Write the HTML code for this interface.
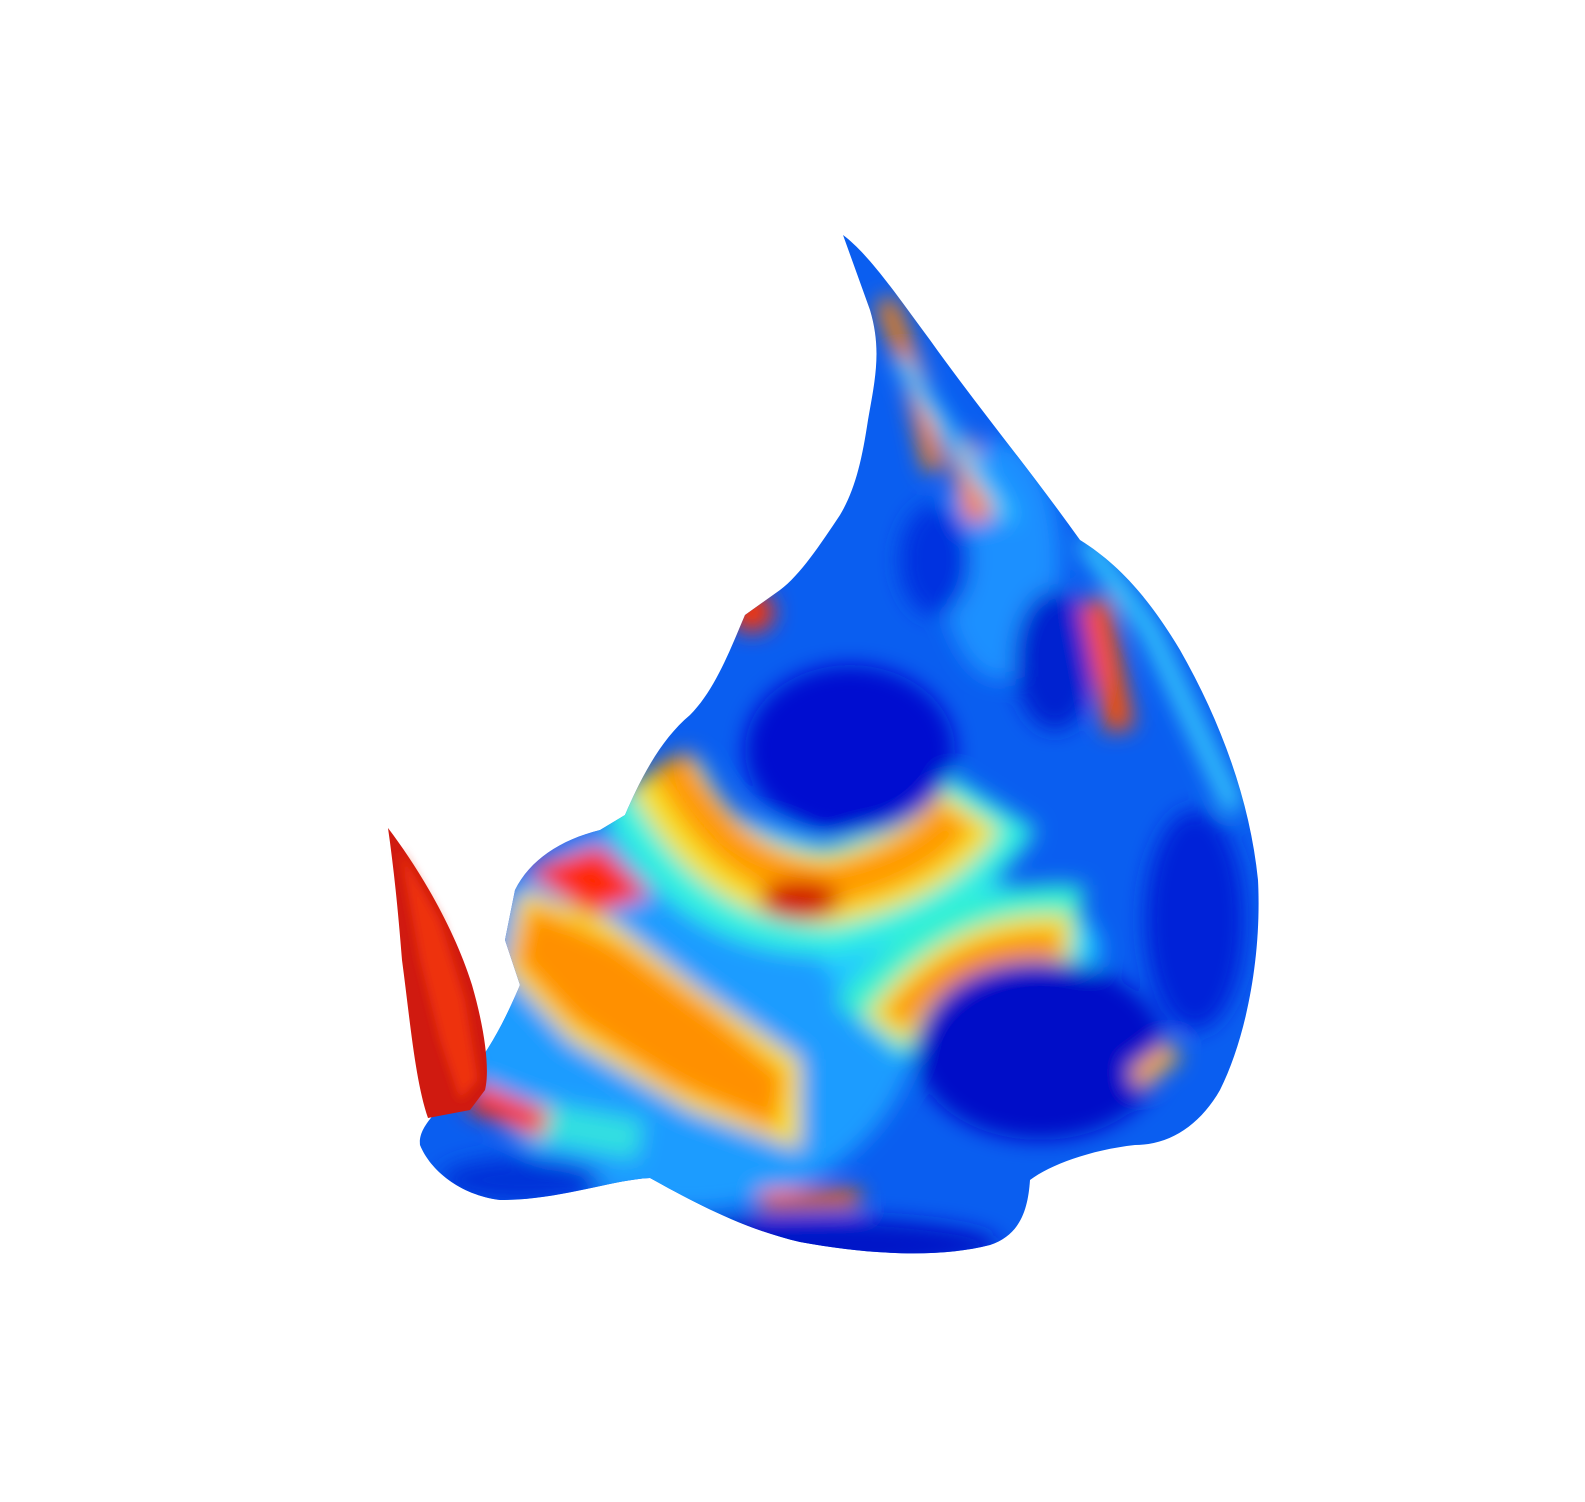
<!DOCTYPE html>
<html><head><meta charset="utf-8"><style>
html,body{margin:0;padding:0;background:#fff;}
svg{display:block;}
</style></head><body>
<svg width="1585" height="1502" viewBox="0 0 1585 1502" xmlns="http://www.w3.org/2000/svg">
<defs>
<filter id="b1" x="-50%" y="-50%" width="200%" height="200%"><feGaussianBlur stdDeviation="11"/></filter>
<filter id="b2" x="-50%" y="-50%" width="200%" height="200%"><feGaussianBlur stdDeviation="5"/></filter>
<clipPath id="body"><path d="M843,235 C870,255 900,300 930,340 C980,410 1030,470 1080,540 C1120,565 1150,600 1180,650 C1220,720 1250,800 1258,880 C1262,960 1245,1040 1220,1090 C1200,1125 1170,1145 1135,1145 C1090,1150 1050,1165 1030,1180 C1028,1210 1020,1235 990,1245 C940,1258 870,1255 800,1242 C740,1228 690,1200 650,1178 C610,1180 560,1200 500,1200 C460,1195 430,1170 420,1145 C418,1125 440,1110 465,1080 C490,1050 505,1020 520,985 L505,940 L515,890 C530,860 560,840 600,830 L625,815 C640,780 660,740 690,715 C715,690 730,650 745,615 L780,590 C800,575 820,545 840,515 C855,490 862,460 868,420 C875,380 882,350 870,310 Z"/></clipPath>
</defs>
<g clip-path="url(#body)">
<rect x="380" y="220" width="900" height="1060" fill="#0a5ef0"/>
<g filter="url(#b1)">
<ellipse cx="690" cy="1010" rx="230" ry="200" fill="#1a9cff"/>
<ellipse cx="960" cy="950" rx="140" ry="70" fill="#20c8ff"/>
<ellipse cx="1000" cy="560" rx="60" ry="120" fill="#1a90ff"/>
<path d="M650,780 Q700,900 830,900 Q940,880 990,800" stroke="#30f0e0" stroke-width="110" fill="none"/>
<path d="M660,770 Q720,890 830,890 Q930,870 970,810" stroke="#f6e020" stroke-width="70" fill="none"/>
<path d="M670,760 Q730,880 830,885 Q920,865 955,815" stroke="#ff9a00" stroke-width="42" fill="none"/>
<ellipse cx="800" cy="900" rx="40" ry="20" fill="#d01000"/>
<path d="M520,890 L610,920 L700,990 L800,1060 L800,1150 L690,1110 L570,1040 L505,970 Z" fill="#f8e020"/>
<path d="M530,905 L620,945 L710,1010 L785,1075 L775,1130 L670,1085 L570,1020 L515,960 Z" fill="#ff9000"/>
<path d="M525,870 L600,845 L650,895 L590,915 Z" fill="#ff2a00"/>
<path d="M870,1030 Q960,920 1080,930" stroke="#30f0d0" stroke-width="90" fill="none"/>
<path d="M885,1030 Q960,930 1070,940" stroke="#f4e020" stroke-width="50" fill="none"/>
<path d="M895,1020 Q960,940 1060,945" stroke="#ff9000" stroke-width="25" fill="none"/>
<ellipse cx="850" cy="750" rx="105" ry="85" fill="#0010d0"/>
<ellipse cx="1040" cy="1050" rx="125" ry="90" fill="#0010c8"/>
<ellipse cx="1195" cy="920" rx="50" ry="110" fill="#0020d8"/>
<ellipse cx="1055" cy="660" rx="40" ry="70" fill="#0020d0"/>
<ellipse cx="935" cy="560" rx="35" ry="55" fill="#0030e0"/>
<path d="M885,300 L915,380 L935,470" stroke="#ff8000" stroke-width="20" fill="none"/>
<path d="M960,440 L980,520" stroke="#ff8000" stroke-width="26" fill="none"/>
<path d="M1095,600 L1120,730" stroke="#ff5000" stroke-width="28" fill="none"/>
<path d="M1085,540 L1150,630 L1235,810" stroke="#40e0ff" stroke-width="16" fill="none"/>
<path d="M900,360 L960,450 L1010,520" stroke="#30d0ff" stroke-width="14" fill="none"/>
<path d="M530,1120 L640,1140" stroke="#30e0e0" stroke-width="40" fill="none"/>
<path d="M470,1095 L545,1125" stroke="#ff3000" stroke-width="28" fill="none"/>
<path d="M760,1200 L860,1198" stroke="#ff6000" stroke-width="18" fill="none"/>
<path d="M1135,1080 L1175,1050" stroke="#ffb000" stroke-width="20" fill="none"/>
<ellipse cx="800" cy="1245" rx="200" ry="28" fill="#0018c8"/>
<ellipse cx="520" cy="1180" rx="80" ry="22" fill="#0030d8"/>
<ellipse cx="752" cy="612" rx="22" ry="20" fill="#ff3000"/>
</g>
</g>
<path d="M388,828 C420,870 455,930 472,985 C485,1030 490,1070 485,1090 L470,1110 L428,1118 C415,1080 410,1020 402,960 C398,910 394,870 388,828 Z" fill="#d01a10"/>
<path d="M400,850 L440,920 465,1000 478,1080 460,1100 440,1040 420,960 Z" fill="#ee3010" filter="url(#b2)"/>
</svg>
</body></html>
